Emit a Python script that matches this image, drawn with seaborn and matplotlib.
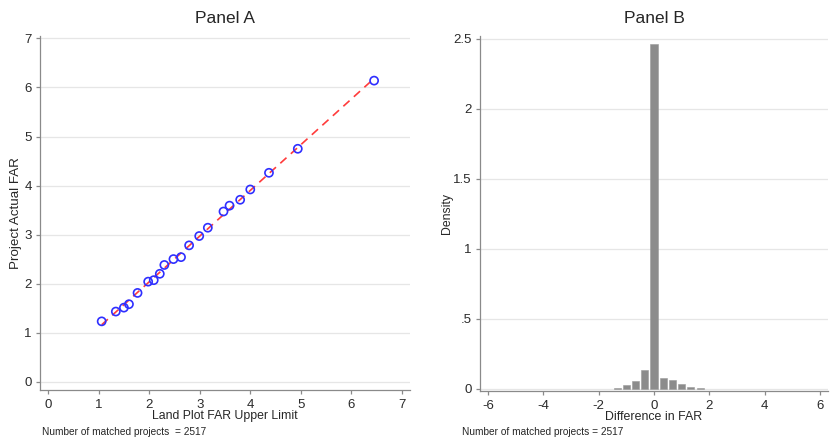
import numpy as np
import pandas as pd
import matplotlib
matplotlib.use("Agg")
import matplotlib.pyplot as plt
import seaborn as sns

# Panel A: binned scatter
far_limit = [1.06, 1.34, 1.50, 1.60, 1.77, 1.98, 2.09, 2.21, 2.30, 2.48, 2.63,
             2.79, 2.99, 3.16, 3.47, 3.59, 3.80, 4.00, 4.37, 4.94, 6.45]
far_actual = [1.23, 1.43, 1.51, 1.58, 1.81, 2.04, 2.07, 2.20, 2.38, 2.50, 2.54,
              2.78, 2.97, 3.14, 3.47, 3.59, 3.71, 3.92, 4.26, 4.75, 6.14]

# Panel B: histogram of FAR difference (density per bin, bin width 1/3)
bin_centers = [-1.333, -1.0, -0.667, -0.333, 0.0, 0.333, 0.667, 1.0, 1.333, 1.667]
bin_density = [0.004, 0.026, 0.056, 0.13, 2.46, 0.075, 0.06, 0.036, 0.01, 0.003]

note_a = "Number of matched projects  = 2517"
note_b = "Number of matched projects = 2517"

sns.set_theme(style="white")
plt.rcParams['font.family'] = ['Liberation Sans', 'DejaVu Sans']
plt.rcParams['axes.unicode_minus'] = False

fig = plt.figure(figsize=(8.31, 4.42), dpi=100)
axA = fig.add_axes([40/831, 1-390/442, 370/831, 354/442])
axB = fig.add_axes([480/831, 1-391/442, 348/831, 355/442])

dfA = pd.DataFrame({"limit": far_limit, "actual": far_actual})
sns.regplot(data=dfA, x="limit", y="actual", ax=axA, scatter=False, ci=None,
            line_kws=dict(color="#ff3b3b", ls=(0, (5, 3.5)), lw=1.2))
sns.scatterplot(data=dfA, x="limit", y="actual", ax=axA, marker="o", s=34,
                facecolor="none", edgecolor="#2f2fff", linewidth=1.2, zorder=3)

bw = 1/3
dfB = pd.DataFrame({"diff": bin_centers, "dens": bin_density})
sns.histplot(data=dfB, x="diff", weights="dens", binwidth=bw,
             binrange=(min(bin_centers) - bw/2, max(bin_centers) + bw/2), ax=axB, stat="count",
             shrink=0.78, color="#8c8c8c", edgecolor="#9a9a9a", linewidth=0.4, alpha=1)

gray = "#8a8a8a"
for ax in (axA, axB):
    for s in ("top", "right"):
        ax.spines[s].set_visible(False)
    for s in ("left", "bottom"):
        ax.spines[s].set_color(gray)
        ax.spines[s].set_linewidth(0.9)
    ax.tick_params(axis="both", direction="out", length=2.8, width=0.9, color=gray,
                   labelsize=9.5, labelcolor="#2a2a2a", pad=3, bottom=True, left=True)
    ax.tick_params(axis="x", pad=4)
    ax.yaxis.grid(True, color="#e6e6e6", lw=0.9)
    ax.set_axisbelow(True)

axA.set_xlim(-0.16, 7.16)
axA.set_ylim(-0.17, 7.05)
axA.set_xticks(range(0, 8))
axA.set_yticks(range(0, 8))
axA.set_title("Panel A", fontsize=12.5, pad=9)
axA.set_xlabel("Land Plot FAR Upper Limit", fontsize=8.8)
axA.set_ylabel("Project Actual FAR", fontsize=9.6)
axA.xaxis.set_label_coords(0.5, -(416 - 390) / 354)
axA.xaxis.label.set_va("center")
axA.yaxis.set_label_coords((16 - 40) / 370, 0.5)
axA.yaxis.label.set_va("center")

axB.set_xlim(-6.29, 6.29)
axB.set_ylim(-0.017, 2.52)
axB.set_xticks([-6, -4, -2, 0, 2, 4, 6])
axB.set_yticks([0, 0.5, 1, 1.5, 2, 2.5])
axB.set_yticklabels(["0", ".5", "1", "1.5", "2", "2.5"])
axB.set_title("Panel B", fontsize=12.5, pad=9)
axB.set_xlabel("Difference in FAR", fontsize=8.9)
axB.set_ylabel("Density", fontsize=8.8)
axB.xaxis.set_label_coords(0.5, -(417 - 391) / 355)
axB.xaxis.label.set_va("center")
axB.yaxis.set_label_coords((447 - 480) / 348, 0.5)
axB.yaxis.label.set_va("center")

fig.text(42/831, 1-432/442, note_a, fontsize=7.3, va="center", ha="left")
fig.text(462/831, 1-432/442, note_b, fontsize=7.3, va="center", ha="left")

fig.savefig("out.png", dpi=100, facecolor="white")
